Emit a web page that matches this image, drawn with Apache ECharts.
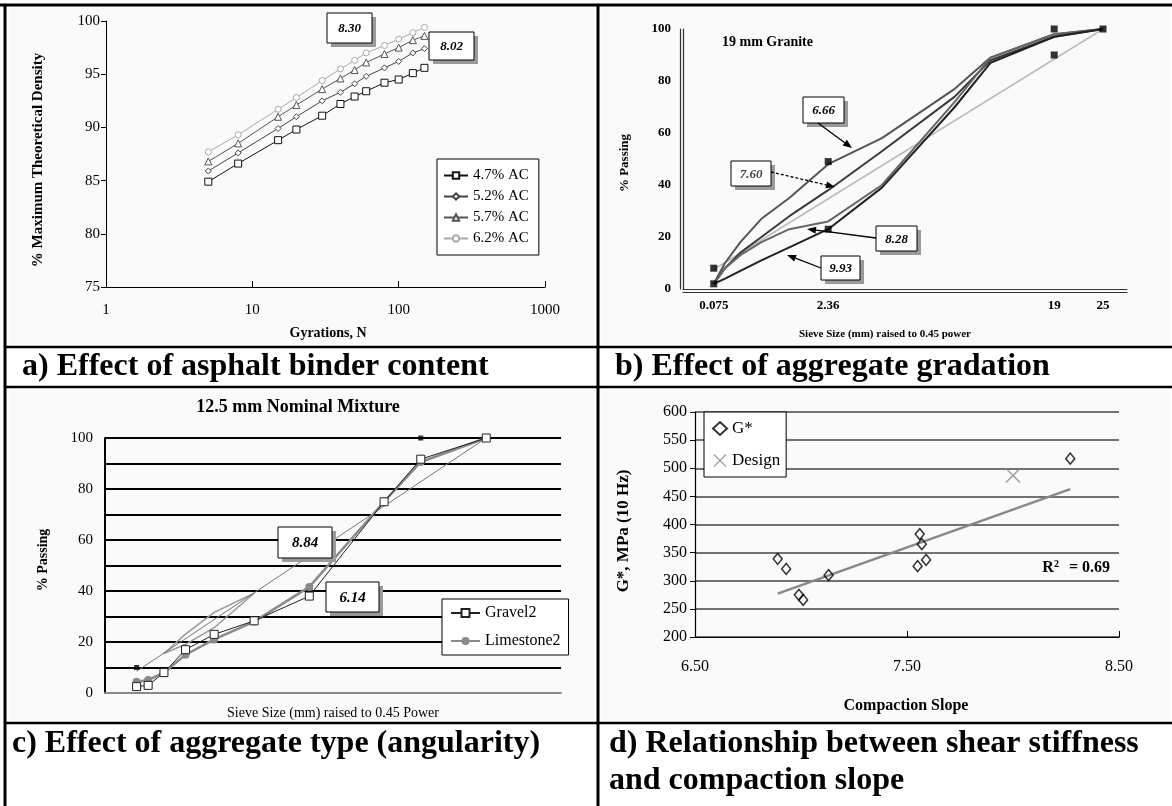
<!DOCTYPE html>
<html><head><meta charset="utf-8">
<script src="https://cdn.jsdelivr.net/npm/echarts@6/dist/echarts.min.js"></script>
<style>html,body{margin:0;padding:0;background:#fff}#c{width:1172px;height:806px}</style>
</head><body><div id="c"></div>
<script>
// ---------- Panel a: density vs gyrations ----------
const gyrations = [5, 8, 15, 20, 30, 40, 50, 60, 80, 100, 125, 150];
const ac47 = [84.9, 86.6, 88.8, 89.8, 91.1, 92.2, 92.9, 93.4, 94.2, 94.5, 95.1, 95.6];
const ac52 = [85.9, 87.6, 89.9, 91.0, 92.5, 93.3, 94.1, 94.8, 95.6, 96.2, 97.0, 97.4];
const ac57 = [86.8, 88.5, 91.0, 92.1, 93.6, 94.6, 95.4, 96.1, 96.9, 97.5, 98.2, 98.6];
const ac62 = [87.7, 89.3, 91.7, 92.8, 94.4, 95.5, 96.3, 97.0, 97.7, 98.3, 98.9, 99.4];
const acNames = ['4.7% AC', '5.2% AC', '5.7% AC', '6.2% AC'];
const slopeNotesA = ['8.30', '8.02'];

// ---------- Panel b: 19 mm granite gradations ----------
const sievesB = [0.075, 0.15, 0.3, 0.6, 1.18, 2.36, 4.75, 9.5, 12.5, 19, 25];
const grad666 = [2, 10, 18, 27, 35, 48, 58, 77, 89, 98, 100];
const grad760 = [2, 8, 14, 20, 28, 38, 53, 74, 88, 97, 100];
const grad828 = [2, 8, 13, 18, 23, 26, 40, 72, 89, 98, 100];
const grad993 = [2, 4, 7, 11, 16, 23, 39, 70, 87, 97, 100];
const gradNames = ['6.66', '7.60', '8.28', '9.93'];
const controlB = [[0.075, 2], [0.075, 8], [2.36, 23], [2.36, 49], [19, 90], [19, 100], [25, 100]];
const maxDensB = [[0.075, 7.5], [25, 100]];
const sieveTicksB = [0.075, 2.36, 19, 25];

// ---------- Panel c: 12.5 mm gradations ----------
const sievesC = [0.075, 0.15, 0.3, 0.6, 1.18, 2.36, 4.75, 9.5, 12.5, 19];
const gravel2 = [2.5, 3.0, 8, 17, 23, 28.3, 38, 75, 91.7, 100];
const limestone2 = [4.4, 5.1, 8, 15, 21, 28, 41.6, 75, 90.6, 100];
const controlC = [[0.075, 10], [12.5, 100]];
const maxDensC = [[0.075, 8.5], [19, 100]];
const rzSieves = [0.3, 0.6, 1.18, 2.36];
const rzLower = [15.5, 19.1, 25.6, 39.1];
const rzUpper = [15.5, 23.1, 31.6, 39.1];
const notesC = ['8.84', '6.14'];

// ---------- Panel d: G* vs compaction slope ----------
const compSlope = [6.89, 6.93, 6.99, 7.01, 7.13, 7.56, 7.57, 7.55, 7.59, 8.27];
const gStar = [339, 321, 275, 266, 310, 383, 365, 326, 337, 517];
const designPt = [[8.0, 487]];
const trendPts = [[6.89, 277], [8.27, 463]];
const slopeTicksD = [6.5, 7.5, 8.5];

const SERIF = '"Liberation Serif", "Times New Roman", serif';
const p45 = v => Math.pow(v, 0.45);
const chart = echarts.init(document.getElementById('c'));

function lab(size, bold) {
  return { fontFamily: SERIF, fontSize: size, color: '#000', fontWeight: bold ? 'bold' : 'normal' };
}
function sieveLabel(v) {
  for (const s of sieveTicksB) if (Math.abs(p45(s) - v) < 1e-6) return String(s);
  return '';
}

const acColors = ['#111', '#444', '#555', '#aaa'];
const acSymbols = ['rect', 'diamond', 'triangle', 'circle'];
const acSizes = [7, 6, 7, 6];
const series = [];
[ac47, ac52, ac57, ac62].forEach((arr, i) => {
  series.push({
    name: acNames[i], type: 'line', xAxisIndex: 0, yAxisIndex: 0,
    data: gyrations.map((g, j) => [g, arr[j]]),
    symbol: acSymbols[i], symbolSize: acSizes[i], showAllSymbol: true,
    lineStyle: { color: acColors[i], width: 1 },
    itemStyle: { color: '#fff', borderColor: acColors[i], borderWidth: 1 },
    z: 3
  });
});
const gradColors = ['#555', '#3a3a3a', '#666', '#222'];
series.push({
  name: 'maxDensB', type: 'line', xAxisIndex: 1, yAxisIndex: 1,
  data: maxDensB.map(([s, p]) => [p45(s), p]), symbol: 'none',
  lineStyle: { color: '#bbb', width: 1.5 }
});
[grad666, grad760, grad828, grad993].forEach((arr, i) => {
  series.push({
    name: gradNames[i], type: 'line', xAxisIndex: 1, yAxisIndex: 1,
    data: sievesB.map((s, j) => [p45(s), arr[j]]), symbol: 'none',
    lineStyle: { color: gradColors[i], width: 2 }
  });
});
series.push({
  name: 'controlB', type: 'scatter', xAxisIndex: 1, yAxisIndex: 1,
  data: controlB.map(([s, p]) => [p45(s), p]), symbol: 'rect', symbolSize: 7,
  itemStyle: { color: '#000' }, z: 5
});
// panel c
[rzLower, rzUpper].forEach((arr, i) => {
  series.push({
    name: 'rz' + i, type: 'line', xAxisIndex: 2, yAxisIndex: 2,
    data: rzSieves.map((s, j) => [p45(s), arr[j]]), symbol: 'none',
    lineStyle: { color: '#999', width: 1.5 }
  });
});
series.push({
  name: 'maxDensC', type: 'line', xAxisIndex: 2, yAxisIndex: 2,
  data: maxDensC.map(([s, p]) => [p45(s), p]), symbol: 'none',
  lineStyle: { color: '#777', width: 1 }
});
series.push({
  name: 'Limestone2', type: 'line', xAxisIndex: 2, yAxisIndex: 2,
  data: sievesC.map((s, j) => [p45(s), limestone2[j]]),
  symbol: 'circle', symbolSize: 8,
  lineStyle: { color: '#8a8a8a', width: 2.5 },
  itemStyle: { color: '#8a8a8a' }, z: 3
});
series.push({
  name: 'Gravel2', type: 'line', xAxisIndex: 2, yAxisIndex: 2,
  data: sievesC.map((s, j) => [p45(s), gravel2[j]]),
  symbol: 'rect', symbolSize: 8,
  lineStyle: { color: '#222', width: 1 },
  itemStyle: { color: '#fff', borderColor: '#222', borderWidth: 1 }, z: 4
});
series.push({
  name: 'controlC', type: 'scatter', xAxisIndex: 2, yAxisIndex: 2,
  data: controlC.map(([s, p]) => [p45(s), p]), symbol: 'rect', symbolSize: 5,
  itemStyle: { color: '#000' }, z: 5
});
// panel d
series.push({
  name: 'trend', type: 'line', xAxisIndex: 3, yAxisIndex: 3,
  data: trendPts, symbol: 'none', lineStyle: { color: '#888', width: 2.5 }
});
series.push({
  name: 'G*', type: 'scatter', xAxisIndex: 3, yAxisIndex: 3,
  data: compSlope.map((x, i) => [x, gStar[i]]),
  symbol: 'diamond', symbolSize: [9, 11],
  itemStyle: { color: 'rgba(255,255,255,0)', borderColor: '#000', borderWidth: 1.5 }, z: 4
});
series.push({
  name: 'Design', type: 'scatter', xAxisIndex: 3, yAxisIndex: 3,
  data: designPt,
  symbol: 'path://M0,0.7 L0.7,0 L5,4.3 L9.3,0 L10,0.7 L5.7,5 L10,9.3 L9.3,10 L5,5.7 L0.7,10 L0,9.3 L4.3,5 Z',
  symbolSize: 15, itemStyle: { color: '#888' }, z: 4
});

// ---------- graphic helpers ----------
const G = [];
function line(x1, y1, x2, y2, w, c) {
  G.push({ type: 'line', z: 100, shape: { x1, y1, x2, y2 }, style: { stroke: c || '#000', lineWidth: w } });
}
function text(t, x, y, font, opts) {
  opts = opts || {};
  G.push({ type: 'text', z: 100, x, y, rotation: opts.rot || 0,
    style: { text: t, font, fill: opts.fill || '#000', textAlign: opts.align || 'center', textVerticalAlign: 'middle' } });
}
function box(x, y, w, h, t, fs, col) {
  G.push({ type: 'rect', z: 90, shape: { x: x + 4, y: y + 4, width: w, height: h }, style: { fill: '#9a9a9a' } });
  G.push({ type: 'rect', z: 91, shape: { x, y, width: w, height: h }, style: { fill: '#fff', stroke: '#000', lineWidth: 1 } });
  text(t, x + w / 2, y + h / 2 + 1, `italic bold ${fs}px ${SERIF}`, { fill: col || '#000' });
}
function arrow(x1, y1, x2, y2, dashed) {
  const a = Math.atan2(y2 - y1, x2 - x1), L = 9, W = 3.5;
  const bx = x2 - L * Math.cos(a), by = y2 - L * Math.sin(a);
  const px = -Math.sin(a) * W, py = Math.cos(a) * W;
  G.push({ type: 'line', z: 95, shape: { x1, y1, x2: bx, y2: by }, style: { stroke: '#000', lineWidth: 1.3, lineDash: dashed ? [3, 2] : null } });
  G.push({ type: 'polygon', z: 95, shape: { points: [[x2, y2], [bx + px, by + py], [bx - px, by - py]] }, style: { fill: '#000' } });
}

// panel backgrounds
[[9, 8, 586, 336], [601, 8, 568, 336], [9, 390, 586, 330], [601, 390, 568, 330]].forEach(r => {
  G.push({ type: 'rect', z: -10, shape: { x: r[0], y: r[1], width: r[2], height: r[3] }, style: { fill: '#fafafa' } });
});

// panel a texts
text('% Maximum Theoretical Density', 38, 160, `bold 15px ${SERIF}`, { rot: Math.PI / 2 });
text('Gyrations, N', 328, 333, `bold 14px ${SERIF}`);
box(327, 13, 45, 30, slopeNotesA[0], 13);
box(429, 32, 45, 28, slopeNotesA[1], 13);

// panel b texts
text('% Passing', 625, 163, `bold 13px ${SERIF}`, { rot: Math.PI / 2 });
text('19 mm Granite', 722, 42, `bold 14px ${SERIF}`, { align: 'left' });
text('Sieve Size (mm) raised to 0.45 power', 885, 334, `bold 11px ${SERIF}`);
box(803, 97, 41, 26, gradNames[0], 13);
box(731, 161, 40, 25, gradNames[1], 13, '#444');
box(876, 226, 41, 25, gradNames[2], 13);
box(821, 256, 39, 24, gradNames[3], 13);
arrow(818, 123, 852, 148);
arrow(771, 172, 835, 187, true);
arrow(876, 238, 807, 229);
arrow(821, 268, 787, 255);

// panel c texts
text('12.5 mm Nominal Mixture', 298, 407, `bold 18px ${SERIF}`);
text('% Passing', 43, 560, `bold 14px ${SERIF}`, { rot: Math.PI / 2 });
text('Sieve Size (mm) raised to 0.45 Power', 333, 713, `14px ${SERIF}`);
box(278, 527, 54, 31, notesC[0], 15);
box(326, 582, 53, 30, notesC[1], 15);

// panel d texts
text('G*, MPa (10 Hz)', 624, 531, `bold 17px ${SERIF}`, { rot: Math.PI / 2 });
text('Compaction Slope', 906, 706, `bold 16px ${SERIF}`);
G.push({ type: 'text', z: 100, x: 1110, y: 568,
  style: { text: '{r|R}{s|2}{r| = 0.69}', textAlign: 'right', textVerticalAlign: 'middle',
    rich: { r: { font: `bold 16px ${SERIF}`, fill: '#000' }, s: { font: `bold 10px ${SERIF}`, fill: '#000', verticalAlign: 'top', padding: [0, 6, 8, 0] } } } });

// captions
const capFont = `bold 32px ${SERIF}`;
text('a) Effect of asphalt binder content', 22, 367, capFont, { align: 'left' });
text('b) Effect of aggregate gradation', 615, 367, capFont, { align: 'left' });
text('c) Effect of aggregate type (angularity)', 12, 744, capFont, { align: 'left' });
text('d) Relationship between shear stiffness', 609, 744, capFont, { align: 'left' });
text('and compaction slope', 609, 781, capFont, { align: 'left' });

// borders
line(0, 5, 1172, 5, 3);
line(5, 4, 5, 806, 3);
line(598, 4, 598, 806, 3);
line(4, 347, 1172, 347, 2.5);
line(4, 387, 1172, 387, 2.5);
line(4, 723, 1172, 723, 2.5);

const none = { show: false };
const option = {
  animation: false,
  backgroundColor: '#fff',
  grid: [
    { left: 106, top: 21, width: 439, height: 266 },
    { left: 683, top: 29, width: 444, height: 260 },
    { left: 105, top: 438, width: 456, height: 255 },
    { left: 695, top: 412, width: 424, height: 225 }
  ],
  xAxis: [
    { gridIndex: 0, type: 'log', logBase: 10, min: 1, max: 1000,
      axisLine: { onZero: false, lineStyle: { color: '#000', width: 1 } },
      axisTick: { inside: true, length: 6, lineStyle: { color: '#000' } },
      axisLabel: Object.assign(lab(15), { margin: 16, formatter: v => String(Math.round(v)) }), splitLine: none, minorTick: none },
    { gridIndex: 1, type: 'value', min: 0, max: 4.5,
      axisLine: { onZero: false, lineStyle: { color: '#333', width: 1.2 } }, axisTick: none,
      axisLabel: Object.assign(lab(13, true), { margin: 10, customValues: sieveTicksB.map(p45), formatter: sieveLabel }),
      splitLine: none },
    { gridIndex: 2, type: 'value', min: 0, max: 4.5, z: 5,
      axisLine: { onZero: false, lineStyle: { color: '#8a8a8a', width: 2 } }, axisTick: none, axisLabel: none, splitLine: none },
    { gridIndex: 3, type: 'value', min: 6.5, max: 8.5,
      axisLine: { onZero: false, lineStyle: { color: '#000', width: 1.2 } },
      axisTick: { inside: true, length: 6, customValues: slopeTicksD, lineStyle: { color: '#000' } },
      axisLabel: Object.assign(lab(16), { margin: 22, customValues: slopeTicksD, formatter: v => v.toFixed(2) }),
      splitLine: none },
    { gridIndex: 1, type: 'value', min: 0, max: 4.5, position: 'bottom', offset: 3,
      axisLine: { onZero: false, lineStyle: { color: '#333', width: 1.2 } }, axisTick: none, axisLabel: none, splitLine: none }
  ],
  yAxis: [
    { gridIndex: 0, type: 'value', min: 75, max: 100, interval: 5,
      axisLine: { show: true, onZero: false, lineStyle: { color: '#000', width: 1 } },
      axisTick: { show: true, length: 5, lineStyle: { color: '#000' } },
      axisLabel: Object.assign(lab(15), { margin: 6 }), splitLine: none },
    { gridIndex: 1, type: 'value', min: 0, max: 100, interval: 20,
      axisLine: { show: true, onZero: false, lineStyle: { color: '#333', width: 1.2 } }, axisTick: none,
      axisLabel: Object.assign(lab(13, true), { margin: 12 }), splitLine: none },
    { gridIndex: 2, type: 'value', min: 0, max: 100, interval: 10,
      axisLine: { show: true, onZero: false, lineStyle: { color: '#000', width: 2 } }, axisTick: none,
      axisLabel: Object.assign(lab(15), { margin: 12, formatter: v => (v % 20 === 0 ? String(v) : '') }),
      splitLine: { show: true, lineStyle: { color: '#000', width: 2 } } },
    { gridIndex: 3, type: 'value', min: 200, max: 600, interval: 50,
      axisLine: { show: true, onZero: false, lineStyle: { color: '#000', width: 1.2 } },
      axisTick: { show: true, length: 5, lineStyle: { color: '#000' } },
      axisLabel: Object.assign(lab(16), { margin: 8 }),
      splitLine: { show: true, lineStyle: { color: '#444', width: 1.5 } } },
    { gridIndex: 1, type: 'value', min: 0, max: 100, position: 'left', offset: 3,
      axisLine: { show: true, onZero: false, lineStyle: { color: '#333', width: 1.2 } }, axisTick: none, axisLabel: none, splitLine: none }
  ],
  legend: [
    { data: acNames, left: 437, top: 159, orient: 'vertical', padding: [9, 10, 9, 6],
      itemWidth: 24, itemHeight: 8, itemGap: 6, backgroundColor: '#fff', borderColor: '#000', borderWidth: 1,
      textStyle: { fontFamily: SERIF, fontSize: 15, lineHeight: 14.5, color: '#000' }, selectedMode: false },
    { data: ['Gravel2', 'Limestone2'], left: 442, top: 599, orient: 'vertical', padding: [6, 8, 6, 8],
      itemWidth: 29, itemHeight: 10, itemGap: 12, backgroundColor: '#fff', borderColor: '#000', borderWidth: 1,
      textStyle: { fontFamily: SERIF, fontSize: 16, lineHeight: 16, color: '#000' }, selectedMode: false },
    { data: ['G*', 'Design'], left: 704, top: 412, orient: 'vertical', padding: [8, 6, 8, 8],
      itemWidth: 14, itemHeight: 13, itemGap: 15, backgroundColor: '#fff', borderColor: '#000', borderWidth: 1,
      textStyle: { fontFamily: SERIF, fontSize: 17, lineHeight: 17, color: '#000' }, selectedMode: false }
  ],
  graphic: { elements: G },
  series
};
chart.setOption(option);
</script>
</body></html>
